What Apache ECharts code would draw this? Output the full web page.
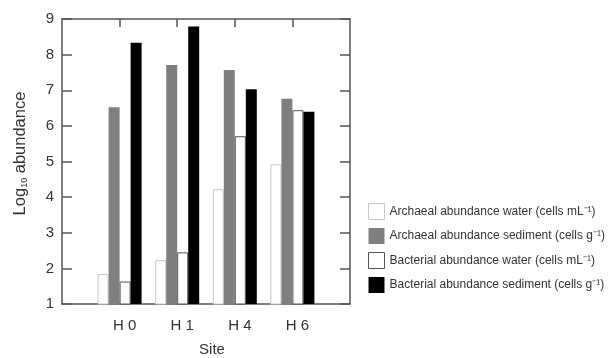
<!DOCTYPE html>
<html>
<head>
<meta charset="utf-8">
<script src="https://cdn.jsdelivr.net/npm/echarts@6/dist/echarts.min.js"></script>
<style>
  html, body { margin: 0; padding: 0; background: #fff; }
  #chart { width: 613px; height: 358px; }
</style>
</head>
<body>
<div id="chart"></div>
<script>
// sites (empty slots at both ends so the frame edges sit half a step away)
const sites = ['', 'H 0', 'H 1', 'H 4', 'H 6', '']
const archaeaWater = [null, 1.84, 2.23, 4.22, 4.92, null]
const archaeaSediment = [null, 6.52, 7.71, 7.57, 6.76, null]
const bacteriaWater = [null, 1.63, 2.45, 5.71, 6.44, null]
const bacteriaSediment = [null, 8.33, 8.79, 7.03, 6.40, null]
const seriesNames = [
  'Archaeal abundance water (cells mL⁻¹)',
  'Archaeal abundance sediment (cells g⁻¹)',
  'Bacterial abundance water (cells mL⁻¹)',
  'Bacterial abundance sediment (cells g⁻¹)'
]

const frameColor = '#555'
const textColor = '#333'
const font = 'Liberation Sans, Arial, sans-serif'

const chart = echarts.init(document.getElementById('chart'))

const barStyles = [
  { color: '#fff', borderColor: '#c8c8c8', borderWidth: 1 },
  { color: '#7f7f7f', borderColor: '#7f7f7f', borderWidth: 0 },
  { color: '#fff', borderColor: '#555', borderWidth: 1 },
  { color: '#000', borderColor: '#000', borderWidth: 0 }
]
const values = [archaeaWater, archaeaSediment, bacteriaWater, bacteriaSediment]

const option = {
  animation: false,
  backgroundColor: '#fff',
  grid: { left: 62, right: 263, top: 19, bottom: 54, outerBoundsMode: 'none', containLabel: false },
  legend: {
    orient: 'vertical',
    left: 363,
    top: 198,
    itemWidth: 16,
    itemHeight: 16,
    itemGap: 8,
    icon: 'rect',
    textStyle: { fontFamily: font, fontSize: 12, color: textColor },
    data: seriesNames.map((n, i) => ({ name: n, itemStyle: barStyles[i] }))
  },
  xAxis: [
    {
      type: 'category',
      data: sites,
      boundaryGap: false,
      name: 'Site',
      nameLocation: 'middle',
      nameGap: 38,
      nameTextStyle: { fontFamily: font, fontSize: 15, color: textColor, padding: [0, 0, 0, 12] },
      axisLine: { lineStyle: { color: frameColor, width: 1.5 } },
      axisTick: { show: false },
      axisLabel: { fontFamily: font, fontSize: 15, color: textColor, margin: 14, interval: 0, padding: [0, 0, 0, 10] },
      splitLine: { show: false }
    },
    {
      type: 'category',
      data: sites,
      boundaryGap: false,
      position: 'top',
      axisLine: { lineStyle: { color: frameColor, width: 1.5 } },
      axisTick: { show: true, inside: true, length: 8, interval: (i, v) => v !== '', lineStyle: { color: frameColor, width: 1.5 } },
      axisLabel: { show: false },
      splitLine: { show: false }
    }
  ],
  yAxis: [
    {
      type: 'value',
      min: 1,
      max: 9,
      interval: 1,
      name: '{a|Log}{s|10}{a| abundance}',
      nameLocation: 'middle',
      nameGap: 33,
      nameTextStyle: {
        padding: [0, 0, 0, 16],
        rich: {
          a: { fontFamily: font, fontSize: 16.5, color: textColor, lineHeight: 18 },
          s: { fontFamily: font, fontSize: 9, color: textColor, verticalAlign: 'bottom', lineHeight: 13 }
        }
      },
      axisLine: { show: true, lineStyle: { color: frameColor, width: 1.5 } },
      axisTick: { show: true, inside: true, length: 10, lineStyle: { color: frameColor, width: 1.5 } },
      axisLabel: { fontFamily: font, fontSize: 15, color: textColor, margin: 8 },
      splitLine: { show: false }
    },
    {
      type: 'value',
      min: 1,
      max: 9,
      interval: 1,
      position: 'right',
      axisLine: { show: true, lineStyle: { color: frameColor, width: 1.5 } },
      axisTick: { show: true, inside: true, length: 10, lineStyle: { color: frameColor, width: 1.5 } },
      axisLabel: { show: false },
      splitLine: { show: false }
    }
  ],
  series: seriesNames.map((n, i) => ({
    name: n,
    type: 'bar',
    data: values[i],
    barWidth: 11,
    barGap: '0%',
    itemStyle: barStyles[i]
  }))
}

chart.setOption(option)
</script>
</body>
</html>
